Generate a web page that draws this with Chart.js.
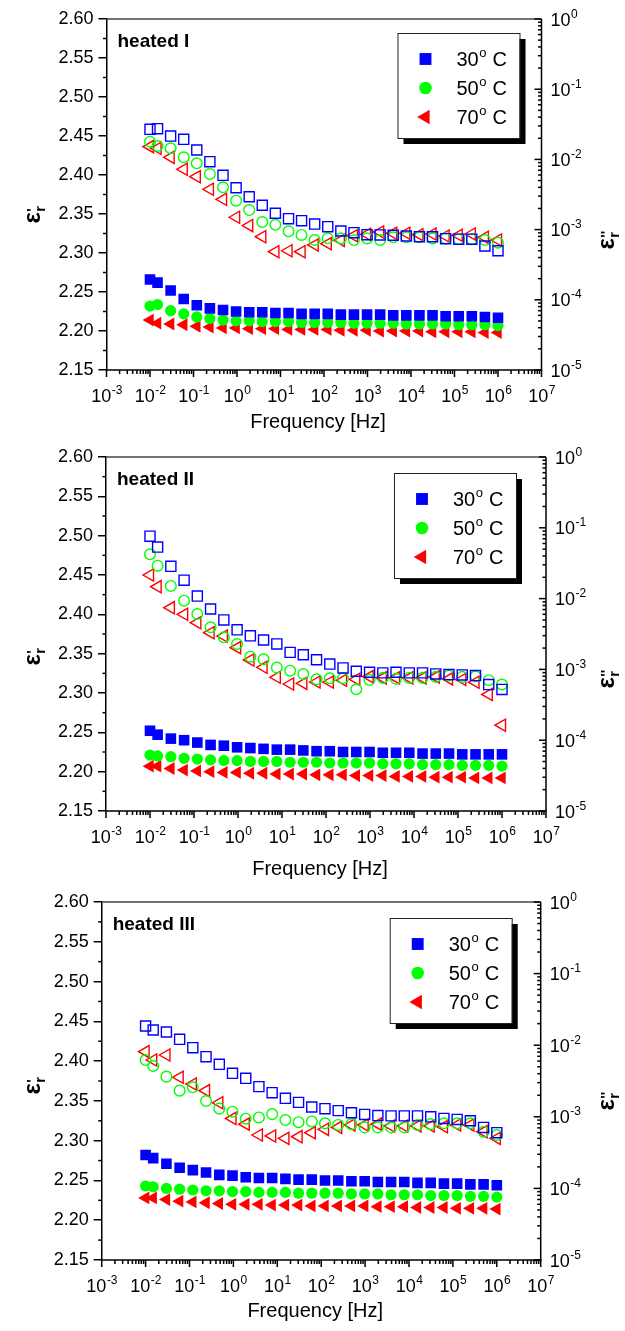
<!DOCTYPE html>
<html>
<head>
<meta charset="utf-8">
<title>Dielectric permittivity vs frequency</title>
<script src="https://cdn.jsdelivr.net/npm/chart.js@4.4.1/dist/chart.umd.min.js"></script>
<style>
  html, body { margin: 0; padding: 0; background: #fff; }
  body { width: 625px; height: 1331px; position: relative; overflow: hidden; }
  .panel { position: absolute; left: 0; width: 625px; }
</style>
</head>
<body>
<div class="panel" style="top:0;height:440px"><canvas id="heated1"></canvas></div>
<div class="panel" style="top:440px;height:445px"><canvas id="heated2"></canvas></div>
<div class="panel" style="top:885px;height:446px"><canvas id="heated3"></canvas></div>
<script>
// measurement frequencies [Hz], same sweep for every run
const freq = [0.01, 0.0149, 0.0298, 0.0596, 0.119, 0.238, 0.477, 0.954, 1.91, 3.81,
  7.63, 15.3, 30.5, 61.0, 122, 244, 488, 977, 1953, 3906,
  7813, 15625, 31250, 62500, 125000, 250000, 500000, 1000000];

const temps = ['30', '50', '70'];
const epsTicks = [2.15, 2.20, 2.25, 2.30, 2.35, 2.40, 2.45, 2.50, 2.55, 2.60];
const freqDecades = [-3, -2, -1, 0, 1, 2, 3, 4, 5, 6, 7];
const lossDecades = [-5, -4, -3, -2, -1, 0];

// heated I : eps' (filled) and eps'' (open)
const h1Eps30 = [2.266, 2.262, 2.252, 2.241, 2.233, 2.229, 2.227, 2.225, 2.224, 2.224, 2.223, 2.223, 2.222, 2.222, 2.222, 2.221, 2.221, 2.221, 2.221, 2.220, 2.220, 2.220, 2.220, 2.219, 2.219, 2.219, 2.218, 2.217];
const h1Eps50 = [2.232, 2.234, 2.226, 2.222, 2.218, 2.216, 2.214, 2.213, 2.213, 2.212, 2.212, 2.212, 2.211, 2.211, 2.211, 2.211, 2.210, 2.210, 2.210, 2.210, 2.209, 2.209, 2.209, 2.209, 2.208, 2.208, 2.208, 2.207];
const h1Eps70 = [2.214, 2.210, 2.209, 2.208, 2.206, 2.205, 2.204, 2.204, 2.203, 2.203, 2.203, 2.202, 2.202, 2.202, 2.202, 2.201, 2.201, 2.201, 2.200, 2.200, 2.200, 2.200, 2.199, 2.199, 2.199, 2.199, 2.198, 2.198];
const h1Loss30 = [0.0268, 0.0274, 0.0215, 0.0193, 0.0136, 0.00927, 0.00593, 0.00395, 0.00294, 0.00222, 0.00171, 0.00143, 0.00134, 0.00120, 0.00110, 0.000955, 0.000904, 0.000846, 0.00084, 0.00083, 0.000811, 0.000793, 0.00079, 0.000742, 0.00073, 0.00073, 0.000584, 0.0005];
const h1Loss50 = [0.0179, 0.0155, 0.0144, 0.0107, 0.00879, 0.00619, 0.0040, 0.00258, 0.0019, 0.00128, 0.00117, 0.000946, 0.000838, 0.000711, 0.000751, 0.00075, 0.00071, 0.00075, 0.00071, 0.000776, 0.000776, 0.000776, 0.00075, 0.00075, 0.00073, 0.00073, 0.00071, 0.00065];
const h1Loss70 = [0.0152, 0.0144, 0.0107, 0.00723, 0.00567, 0.00375, 0.0027, 0.0015, 0.00114, 0.000792, 0.000484, 0.0005, 0.000484, 0.000604, 0.00063, 0.000703, 0.000818, 0.000857, 0.000925, 0.000886, 0.000886, 0.000846, 0.000866, 0.00081, 0.00083, 0.000866, 0.000776, 0.00071];

// heated II
const h2Eps30 = [2.252, 2.247, 2.242, 2.240, 2.237, 2.234, 2.233, 2.231, 2.230, 2.229, 2.228, 2.228, 2.227, 2.226, 2.226, 2.225, 2.225, 2.225, 2.224, 2.224, 2.224, 2.223, 2.223, 2.223, 2.222, 2.222, 2.222, 2.222];
const h2Eps50 = [2.221, 2.220, 2.219, 2.217, 2.216, 2.215, 2.214, 2.214, 2.213, 2.213, 2.213, 2.212, 2.212, 2.212, 2.211, 2.211, 2.211, 2.211, 2.210, 2.210, 2.210, 2.209, 2.209, 2.209, 2.208, 2.208, 2.208, 2.207];
const h2Eps70 = [2.207, 2.207, 2.204, 2.202, 2.201, 2.200, 2.199, 2.199, 2.198, 2.198, 2.197, 2.197, 2.197, 2.196, 2.196, 2.196, 2.195, 2.195, 2.195, 2.194, 2.194, 2.194, 2.193, 2.193, 2.193, 2.192, 2.192, 2.192];
const h2Loss30 = [0.0762, 0.0534, 0.0286, 0.0182, 0.01086, 0.00713, 0.0050, 0.00362, 0.00298, 0.0026, 0.00229, 0.00174, 0.00161, 0.00137, 0.00119, 0.00105, 0.000942, 0.000912, 0.000893, 0.000912, 0.000893, 0.000893, 0.000864, 0.000845, 0.000836, 0.000818, 0.000611, 0.000521];
const h2Loss50 = [0.0422, 0.0292, 0.01507, 0.00935, 0.00606, 0.00393, 0.00284, 0.00228, 0.00151, 0.00139, 0.00106, 0.00096, 0.00086, 0.000724, 0.000748, 0.000748, 0.000523, 0.000708, 0.000759, 0.000735, 0.000759, 0.000759, 0.000784, 0.000818, 0.000784, 0.0008, 0.000704, 0.000612];
const h2Loss70 = [0.0215, 0.01475, 0.00745, 0.006, 0.00457, 0.0033, 0.00296, 0.00203, 0.00136, 0.00107, 0.000773, 0.000622, 0.000635, 0.000664, 0.000664, 0.000701, 0.000724, 0.00079, 0.000759, 0.000759, 0.000759, 0.000759, 0.000784, 0.000735, 0.00072, 0.00066, 0.000443, 0.000163];

// heated III
const h3Eps30 = [2.282, 2.278, 2.271, 2.266, 2.263, 2.260, 2.257, 2.256, 2.254, 2.253, 2.253, 2.252, 2.251, 2.251, 2.250, 2.250, 2.249, 2.249, 2.248, 2.248, 2.248, 2.247, 2.247, 2.246, 2.246, 2.245, 2.245, 2.244];
const h3Eps50 = [2.243, 2.242, 2.240, 2.239, 2.238, 2.237, 2.237, 2.236, 2.236, 2.235, 2.235, 2.235, 2.234, 2.234, 2.234, 2.234, 2.233, 2.233, 2.233, 2.232, 2.232, 2.232, 2.231, 2.231, 2.231, 2.230, 2.230, 2.229];
const h3Eps70 = [2.228, 2.228, 2.226, 2.224, 2.223, 2.222, 2.221, 2.220, 2.220, 2.220, 2.219, 2.219, 2.219, 2.218, 2.218, 2.218, 2.218, 2.218, 2.217, 2.217, 2.217, 2.216, 2.216, 2.216, 2.215, 2.215, 2.215, 2.214];
const h3Loss30 = [0.01854, 0.0163, 0.01528, 0.01207, 0.00924, 0.00692, 0.0054, 0.00405, 0.00345, 0.00264, 0.00217, 0.00181, 0.00159, 0.00137, 0.0013, 0.00122, 0.00114, 0.00108, 0.00104, 0.00103, 0.00103, 0.00103, 0.0010, 0.00095, 0.00092, 0.00088, 0.00071, 0.0006];
const h3Loss50 = [0.00621, 0.00512, 0.00364, 0.00232, 0.00258, 0.00166, 0.0013, 0.00118, 0.00094, 0.00098, 0.00109, 0.0009, 0.00084, 0.00086, 0.00081, 0.00077, 0.00079, 0.000712, 0.000712, 0.000712, 0.000712, 0.00077, 0.00079, 0.00081, 0.00081, 0.00081, 0.00062, 0.000557];
const h3Loss70 = [0.00813, 0.00621, 0.0073, 0.00356, 0.00287, 0.00232, 0.00157, 0.00095, 0.00079, 0.000557, 0.00054, 0.0005, 0.000528, 0.0006, 0.000668, 0.000712, 0.00077, 0.00077, 0.00079, 0.000745, 0.000745, 0.000745, 0.000745, 0.000728, 0.00077, 0.00077, 0.00062, 0.0005];

const FONT = '"Liberation Sans", Arial, sans-serif';
const colors = ['#0000ff', '#00ff00', '#ff0000'];
const markers = [
  { pointStyle: 'rect', radius: 7.5, rotation: 0 },
  { pointStyle: 'circle', radius: 5.6, rotation: 0 },
  { pointStyle: 'triangle', radius: 7.4, rotation: -90 },
];
const Y_AXIS_W = 60;

const pts = vals => freq.map((f, i) => ({ x: f, y: vals[i] }));

function line(ctx, x1, y1, x2, y2) {
  ctx.beginPath();
  ctx.moveTo(x1, y1);
  ctx.lineTo(x2, y2);
  ctx.stroke();
}

// "10" with a raised exponent
function drawPow(ctx, exp, x, baseline, align) {
  ctx.font = '18px ' + FONT;
  const wBase = ctx.measureText('10').width;
  ctx.font = '12px ' + FONT;
  const wExp = ctx.measureText(String(exp)).width;
  const x0 = align === 'center' ? x - (wBase + wExp) / 2 : x;
  ctx.textAlign = 'left';
  ctx.textBaseline = 'alphabetic';
  ctx.font = '18px ' + FONT;
  ctx.fillText('10', x0, baseline);
  ctx.font = '12px ' + FONT;
  ctx.fillText(String(exp), x0 + wBase + 0.5, baseline - 8);
}

// rotated eps title with subscript r and primes
function drawEpsTitle(ctx, cx, cy, primes) {
  ctx.save();
  ctx.translate(cx, cy);
  ctx.rotate(-Math.PI / 2);
  ctx.fillStyle = '#000';
  ctx.textAlign = 'left';
  ctx.textBaseline = 'alphabetic';
  ctx.font = 'bold 24px ' + FONT;
  const wE = ctx.measureText('\u03b5').width;
  ctx.font = 'bold 15px ' + FONT;
  const wR = ctx.measureText('r').width;
  const x0 = -(wE + wR) / 2;
  ctx.font = 'bold 24px ' + FONT;
  ctx.fillText('\u03b5', x0, 8);
  ctx.font = 'bold 15px ' + FONT;
  ctx.fillText('r', x0 + wE + 0.5, 13);
  ctx.fillText(primes, x0 + wE + 0.5, 5);
  ctx.restore();
}

function drawMarker(ctx, m, color, x, y, scale) {
  ctx.fillStyle = color;
  Chart.helpers.drawPoint(ctx, {
    pointStyle: m.pointStyle, radius: m.radius * scale, rotation: m.rotation, borderWidth: 0
  }, x, y);
}

const decor = {
  id: 'decor',
  afterDraw(chart, args, opts) {
    const { ctx, chartArea: a, scales } = chart;
    const x = scales.x, y = scales.y, y2 = scales.y2;
    ctx.save();
    ctx.fillStyle = '#000';
    ctx.lineWidth = 1.5;

    // frame (left edge comes from the y axis border)
    ctx.strokeStyle = '#444';
    line(ctx, a.left, a.top, a.right, a.top);
    ctx.strokeStyle = '#000';
    line(ctx, a.left - 0.75, a.bottom, a.right + 0.75, a.bottom);
    line(ctx, a.right, a.top, a.right, a.bottom);

    // bottom log axis: ticks point out, labels 10^n
    for (const d of freqDecades) {
      const px = x.getPixelForValue(Math.pow(10, d));
      line(ctx, px, a.bottom, px, a.bottom + 7);
      if (d < 7) {
        for (let m = 2; m <= 9; m++) {
          const mx = x.getPixelForValue(m * Math.pow(10, d));
          line(ctx, mx, a.bottom, mx, a.bottom + 4);
        }
      }
      drawPow(ctx, d, px, a.bottom + 32, 'center');
    }

    // minor ticks on the eps' axis
    for (let i = 0; i < epsTicks.length - 1; i++) {
      const py = y.getPixelForValue((epsTicks[i] + epsTicks[i + 1]) / 2);
      line(ctx, a.left - 3.5, py, a.left, py);
    }

    // right log axis for eps'': ticks point inward
    for (const d of lossDecades) {
      const py = y2.getPixelForValue(Math.pow(10, d));
      line(ctx, a.right - 7, py, a.right, py);
      if (d < 0) {
        for (let m = 2; m <= 9; m++) {
          const my = y2.getPixelForValue(m * Math.pow(10, d));
          line(ctx, a.right - 3.5, my, a.right, my);
        }
      }
      drawPow(ctx, d, a.right + 9, py + 6.5, 'left');
    }

    // axis titles
    ctx.font = '20px ' + FONT;
    ctx.textAlign = 'center';
    ctx.textBaseline = 'middle';
    ctx.fillText('Frequency [Hz]', (a.left + a.right) / 2 - 6, a.bottom + opts.freqDy);
    drawEpsTitle(ctx, 32, a.top + opts.leftTitleDy, "'");
    drawEpsTitle(ctx, 606, a.top + opts.rightTitleDy, "''");

    // sample label
    ctx.fillStyle = '#000';
    ctx.font = 'bold 19px ' + FONT;
    ctx.textAlign = 'left';
    ctx.textBaseline = 'alphabetic';
    ctx.fillText(opts.label, a.left + 11, a.top + 28);

    // legend with drop shadow
    const bx = a.right + opts.legendDx, by = a.top + opts.legendDy;
    const bw = 122, bh = 105;
    ctx.fillStyle = '#000';
    ctx.fillRect(bx + 6, by + 6, bw, bh);
    ctx.fillStyle = '#fff';
    ctx.fillRect(bx, by, bw, bh);
    ctx.strokeStyle = '#222';
    ctx.lineWidth = 1;
    ctx.strokeRect(bx + 0.5, by + 0.5, bw, bh);
    temps.forEach((t, i) => {
      const ry = by + 26 + i * 29;
      drawMarker(ctx, markers[i], colors[i], bx + 28, ry, 1.12);
      ctx.fillStyle = '#000';
      ctx.textBaseline = 'alphabetic';
      ctx.textAlign = 'left';
      ctx.font = '20px ' + FONT;
      const tx = bx + 59;
      ctx.fillText(t, tx, ry + 7);
      const wt = ctx.measureText(t).width;
      ctx.font = '13px ' + FONT;
      ctx.fillText('o', tx + wt + 0.5, ry - 2);
      const wo = ctx.measureText('o').width;
      ctx.font = '20px ' + FONT;
      ctx.fillText(' C', tx + wt + wo + 1, ry + 7);
    });
    ctx.restore();
  }
};

function makeDatasets(eps, loss) {
  const sets = [];
  for (let i = 2; i >= 0; i--) {
    sets.push({
      label: temps[i] + ' C eps\'',
      data: pts(eps[i]),
      yAxisID: 'y',
      pointStyle: markers[i].pointStyle,
      pointRadius: markers[i].radius,
      pointRotation: markers[i].rotation,
      backgroundColor: colors[i],
      borderColor: colors[i],
      pointBorderWidth: 0,
      order: 10 + i
    });
  }
  for (let i = 2; i >= 0; i--) {
    sets.push({
      label: temps[i] + ' C eps\'\'',
      data: pts(loss[i]),
      yAxisID: 'y2',
      pointStyle: markers[i].pointStyle,
      pointRadius: markers[i].radius * 0.95,
      pointRotation: markers[i].rotation,
      backgroundColor: 'rgba(0,0,0,0)',
      borderColor: colors[i],
      pointBorderWidth: 1.4,
      order: i
    });
  }
  return sets;
}

function makeChart(id, eps, loss, area, extra) {
  return new Chart(document.getElementById(id), {
    type: 'scatter',
    data: { datasets: makeDatasets(eps, loss) },
    options: {
      responsive: true,
      maintainAspectRatio: false,
      animation: false,
      events: [],
      layout: {
        padding: { left: area.left - Y_AXIS_W, right: area.right, top: area.top, bottom: area.bottom },
        autoPadding: false
      },
      plugins: {
        legend: { display: false },
        tooltip: { enabled: false },
        decor: extra
      },
      scales: {
        x: { type: 'logarithmic', min: 1e-3, max: 1e7, display: false },
        y: {
          type: 'linear',
          position: 'left',
          min: 2.15,
          max: 2.60,
          afterFit: s => { s.width = Y_AXIS_W; },
          grid: { drawOnChartArea: false, drawTicks: true, tickLength: 8, color: '#000', lineWidth: 1.5 },
          border: { display: true, color: '#000', width: 1.5 },
          ticks: {
            stepSize: 0.05,
            padding: 5,
            color: '#000',
            font: { family: FONT, size: 18 },
            callback: v => v.toFixed(2)
          }
        },
        y2: { type: 'logarithmic', position: 'right', min: 1e-5, max: 1, display: false }
      }
    },
    plugins: [decor]
  });
}

makeChart('heated1', [h1Eps30, h1Eps50, h1Eps70], [h1Loss30, h1Loss50, h1Loss70],
  { left: 106.5, right: 83.5, top: 19, bottom: 70 },
  { label: 'heated I', legendDx: -144, legendDy: 14, freqDy: 52, leftTitleDy: 196, rightTitleDy: 222 });
makeChart('heated2', [h2Eps30, h2Eps50, h2Eps70], [h2Loss30, h2Loss50, h2Loss70],
  { left: 106, right: 79, top: 17, bottom: 74 },
  { label: 'heated II', legendDx: -152, legendDy: 16, freqDy: 58, leftTitleDy: 200, rightTitleDy: 223 });
makeChart('heated3', [h3Eps30, h3Eps50, h3Eps70], [h3Loss30, h3Loss50, h3Loss70],
  { left: 101.7, right: 84.3, top: 17, bottom: 71 },
  { label: 'heated III', legendDx: -151, legendDy: 16, freqDy: 51, leftTitleDy: 184, rightTitleDy: 200 });
</script>
</body>
</html>
